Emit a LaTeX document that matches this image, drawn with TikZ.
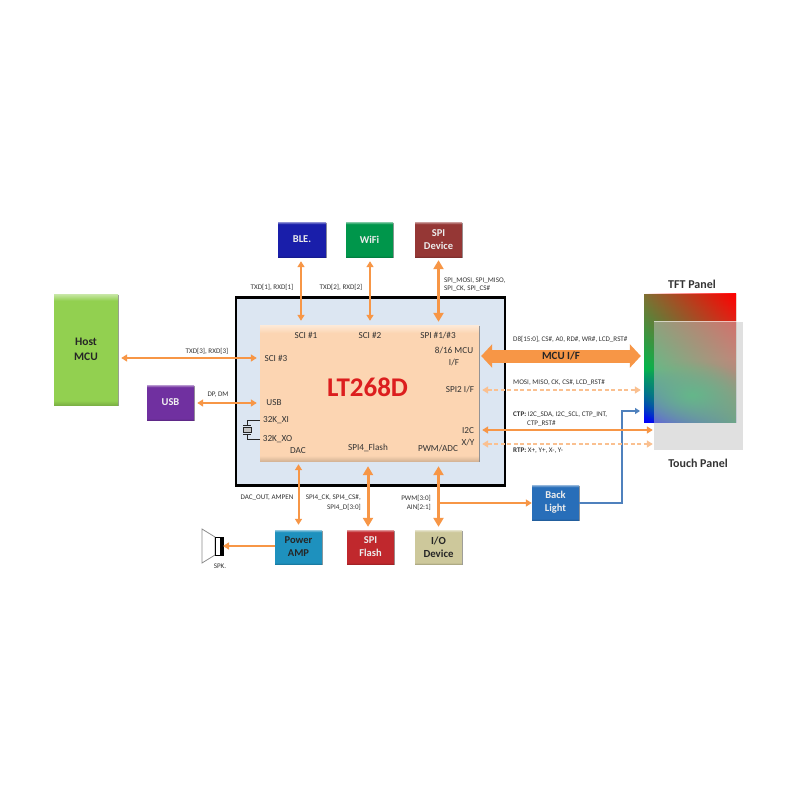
\documentclass[tikz,border=0pt]{standalone}
\usepackage{fontspec}
\setmainfont{Carlito}
\usetikzlibrary{arrows.meta,shadows,fadings}
\colorlet{boxc}{black}
\definecolor{orng}{HTML}{F79646}
\definecolor{orngl}{HTML}{FAC090}
\definecolor{blueln}{HTML}{4F81BD}
\definecolor{txtc}{HTML}{333333}
\definecolor{framefill}{HTML}{DCE6F2}
\definecolor{chipc}{HTML}{FCD5B2}
\definecolor{hostc}{HTML}{92D050}
\definecolor{usbc}{HTML}{7030A0}
\definecolor{blec}{HTML}{191EAA}
\definecolor{wific}{HTML}{00964B}
\definecolor{devc}{HTML}{953735}
\definecolor{ampc}{HTML}{1E91BE}
\definecolor{flashc}{HTML}{C0282D}
\definecolor{ioc}{HTML}{CDC89B}
\definecolor{backc}{HTML}{286EB9}
\definecolor{titlec}{HTML}{DC1E1E}
\definecolor{touchc}{HTML}{C2C2C2}
\definecolor{tftmid}{rgb}{0,0.72,0.3}
\definecolor{tfttl}{rgb}{0.5,0.44,0.2}
\definecolor{tftbr}{rgb}{0.1,0.55,0.3}
\definecolor{tftmr}{rgb}{0.75,0.3,0.2}
\pgfdeclareverticalshading[boxc]{boxshade}{100bp}{color(0bp)=(boxc!85!black); color(25bp)=(boxc!85!black); color(27bp)=(boxc); color(72bp)=(boxc); color(75bp)=(boxc!50!white); color(100bp)=(boxc!50!white)}
\pgfdeclareverticalshading{tftleft}{100bp}{color(0bp)=(blue); color(25bp)=(blue); color(46bp)=(tftmid); color(75bp)=(tfttl); color(100bp)=(tfttl)}
\pgfdeclareverticalshading{tftright}{100bp}{color(0bp)=(tftbr); color(25bp)=(tftbr); color(50bp)=(tftmr); color(75bp)=(red); color(100bp)=(red)}
\tikzfading[name=toright, left color=transparent!100, right color=transparent!0]
\tikzfading[name=blob, inner color=transparent!15, outer color=transparent!100]
\tikzset{
  shd/.style={drop shadow={shadow xshift=.8pt,shadow yshift=-1.2pt,opacity=.4,fill=black}},
  blk/.style n args={5}{draw=none,shd,inner sep=0pt,minimum width=#1,minimum height=#2,
    /utils/exec={\colorlet{boxc}{#3}},shading=boxshade,text=#4,align=center,
    font=\fontsize{#5}{13}\selectfont\bfseries},
  lbl/.style={inner sep=0pt,text=txtc,font=\fontsize{9.2}{11.5}\selectfont},
  sm/.style={inner sep=0pt,text=txtc,font=\fontsize{7.1}{8}\selectfont},
  smb/.style={sm,anchor=west},
  head/.style={inner sep=0pt,text=txtc,font=\fontsize{12}{13}\selectfont\bfseries},
  thin arr/.style={draw=orng,line width=2pt,{Triangle[width=7pt,length=6pt]}-{Triangle[width=7pt,length=6pt]}},
  one arr/.style={draw=orng,line width=2pt,-{Triangle[width=7pt,length=6pt]}},
  thick arr/.style={draw=orng,line width=3pt,{Triangle[width=10pt,length=9pt]}-{Triangle[width=10pt,length=9pt]}},
  dash arr/.style={draw=orngl,line width=1.6pt,dash pattern=on 4pt off 2.5pt,{Triangle[width=7pt,length=6pt]}-{Triangle[width=7pt,length=6pt]}},
}
\begin{document}
\begin{tikzpicture}[x=1pt,y=-1pt]
\useasboundingbox[fill=white] (0,0) rectangle (800,800);
% main frames
\node[draw=black,line width=2.4pt,fill=framefill,minimum width=269pt,minimum height=188pt,inner sep=0pt] (frame) at (370.5,391.5) {};
\node[blk={219pt}{136pt}{chipc}{black}{8}] (chip) at (369.5,393) {};
% blocks
\node[blk={64pt}{111pt}{hostc}{black!85}{11.5}] (host) at (86,349.5) {Host\\[2pt]MCU};
\node[blk={47pt}{35pt}{usbc}{white!90!gray}{10.5}] (usb) at (170.5,402.5) {USB};
\node[blk={48pt}{35pt}{blec}{white!85!gray}{10.5}] (ble) at (302,239.5) {BLE.};
\node[blk={47pt}{35pt}{wific}{white!85!gray}{10.5}] (wifi) at (369.5,239.5) {WiFi};
\node[blk={47pt}{35pt}{devc}{white!85!gray}{10.5}] (spidev) at (438.5,239.5) {SPI\\Device};
\node[blk={47pt}{34pt}{ampc}{black!85}{10.5}] (amp) at (298.5,547) {Power\\AMP};
\node[blk={47pt}{34pt}{flashc}{white!85!gray}{10.5}] (flash) at (370.5,547) {SPI\\Flash};
\node[blk={47pt}{34pt}{ioc}{black!85}{10.8}] (iodev) at (438.5,547) {I/O\\Device};
\node[blk={47pt}{35pt}{backc}{white!85!gray}{10.5}] (back) at (555.5,502.5) {Back\\Light};
% panels
\node[minimum width=92pt,minimum height=128pt,inner sep=0pt,shading=tftleft] (tft) at (690,358) {};
\shade[shading=tftright,path fading=toright] (tft.north west) rectangle (tft.south east);
\begin{scope}
\clip (tft.north west) rectangle (tft.south east);
\fill[tftmid,path fading=blob] (692,395) ellipse (60pt and 34pt);
\end{scope}
% connector anchors
\coordinate (ymcu) at (0,356);
\coordinate (yspi) at (0,390);
\coordinate (yctp) at (0,430);
\coordinate (yrtp) at (0,444);
\coordinate (yhost) at (0,358);
\coordinate (yusb) at (0,403);
\coordinate (yback) at (0,503);
\coordinate (yamp) at (0,546);
\coordinate (blbend) at (622,411);
\coordinate (blend) at (640,411);
% speaker
\coordinate (spk) at (223,546);
\filldraw[draw=gray!90,fill=white,line width=.8pt] (202,529) -- (215,537) -- (215,555) -- (202,563) -- cycle;
\filldraw[draw=black,fill=white,line width=.6pt] (215,537) rectangle (223,555);
\fill[black] (219.5,537) rectangle (223,555);
\node[sm] (spktxt) at (220,566.5) {SPK.};
% arrows
\draw[thin arr,shorten <=4pt,shorten >=4pt] ([xshift=-1pt]ble.south) -- ([xshift=-1pt]ble.south |- chip.north);
\draw[thin arr,shorten <=4pt,shorten >=4pt] ([xshift=.5pt]wifi.south) -- ([xshift=.5pt]wifi.south |- chip.north);
\draw[thick arr,shorten <=3pt,shorten >=3pt] (spidev.south) -- (spidev.south |- chip.north);
\draw[thin arr,shorten <=3pt,shorten >=3pt] (host.east |- yhost) -- (chip.west |- yhost);
\draw[thin arr,shorten <=3pt,shorten >=3pt] (usb.east |- yusb) -- (chip.west |- yusb);
\draw[thin arr,shorten <=5pt,shorten >=3pt] (amp.north) -- (amp.north |- chip.south);
\draw[thick arr,shorten <=3pt,shorten >=5pt] ([xshift=-2.5pt]flash.north) -- ([xshift=-2.5pt]flash.north |- chip.south);
\draw[thick arr,shorten <=3pt,shorten >=5pt] (iodev.north) -- (iodev.north |- chip.south);
\draw[one arr] (iodev.north |- yback) -- (back.west |- yback);
\draw[one arr,shorten >=0pt] (amp.west |- yamp) -- (spk |- yamp);
\draw[draw=orng,line width=13pt,{Triangle[width=23pt,length=11pt]}-{Triangle[width=23pt,length=11pt]},shorten <=2pt,shorten >=3pt] (chip.east |- ymcu) -- (tft.west |- ymcu);
\node[head,text=black!85,font=\fontsize{11}{12}\selectfont\bfseries] (mculbl) at (561,356) {MCU I/F};
\draw[dash arr,shorten <=3pt,shorten >=3pt] (chip.east |- yspi) -- (tft.west |- yspi);
\draw[blueln,line width=1.3pt,-{Triangle[width=6pt,length=5pt]}] (back.east |- yback) -| (blbend) -- (blend);
% touch panel above the TFT
\node[minimum width=89pt,minimum height=128pt,inner sep=0pt,fill=touchc,fill opacity=.5] (touch) at (698.5,386) {};
\draw[white,opacity=.7,line width=1pt] (touch.north west) -- (touch.north east);
\draw[draw=orng,line width=2.4pt,{Triangle[width=7pt,length=6pt]}-{Triangle[width=7pt,length=6pt]},shorten <=3pt,shorten >=1pt] (chip.east |- yctp) -- (touch.west |- yctp);
\draw[dash arr,shorten <=3pt,shorten >=1pt] (chip.east |- yrtp) -- (touch.west |- yrtp);
% crystal
\draw[gray!30!black,line width=.8pt] (260,420) -- (247,420) -- (247,425.5) (243,425.5) -- (251,425.5);
\draw[gray!30!black,line width=.8pt] (260,439) -- (247,439) -- (247,434.5) (243,434.5) -- (251,434.5);
\filldraw[draw=gray!30!black,fill=gray!45,line width=.6pt] (243,427.5) rectangle (251,432.5);
% chip labels
\node[inner sep=0pt,text=titlec,font=\fontsize{27}{29}\selectfont\bfseries] (title) at (367.5,387) {LT268D};
\node[lbl] (a1) at (306,335) {SCI \#1};
\node[lbl] (a2) at (370,335) {SCI \#2};
\node[lbl] (a3) at (438,335) {SPI \#1/\#3};
\node[lbl] (a4) at (276,358) {SCI \#3};
\node[lbl,align=center] (a5) at (454,356.5) {8/16 MCU\\I/F};
\node[lbl] (a6) at (460,389) {SPI2 I/F};
\node[lbl] (a7) at (468,431) {I2C};
\node[lbl] (a8) at (468,442) {X/Y};
\node[lbl] (a9) at (274,403) {USB};
\node[lbl] (a10) at (276,420) {32K\_XI};
\node[lbl] (a11) at (277.5,439) {32K\_XO};
\node[lbl] (a12) at (298,451) {DAC};
\node[lbl] (a13) at (368,448) {SPI4\_Flash};
\node[lbl] (a14) at (438,448) {PWM/ADC};
% signal labels
\node[sm] (b1) at (272,287.5) {TXD[1], RXD[1]};
\node[sm] (b2) at (341,287.5) {TXD[2], RXD[2]};
\node[smb] (b3) at (444,280.5) {SPI\_MOSI, SPI\_MISO,};
\node[smb] (b4) at (444,289) {SPI\_CK, SPI\_CS\#};
\node[sm] (b5) at (207,351.5) {TXD[3], RXD[3]};
\node[sm] (b6) at (218,394.5) {DP, DM};
\node[smb] (b7) at (513,339) {D8[15:0], CS\#, A0, RD\#, WR\#, LCD\_RST\#};
\node[smb] (b8) at (513,383) {MOSI, MISO, CK, CS\#, LCD\_RST\#};
\node[smb] (b9) at (513,415) {\textbf{CTP:} I2C\_SDA, I2C\_SCL, CTP\_INT,};
\node[smb] (b10) at (527,423.5) {CTP\_RST\#};
\node[smb] (b11) at (513,451) {\textbf{RTP:} X+, Y+, X-, Y-};
\node[sm] (b12) at (267,498) {DAC\_OUT, AMPEN};
\node[sm,anchor=east] (b13) at (361,498) {SPI4\_CK, SPI4\_CS\#,};
\node[sm,anchor=east] (b14) at (361,507) {SPI4\_D[3:0]};
\node[sm,anchor=east] (b15) at (431,498) {PWM[3:0]};
\node[sm,anchor=east] (b16) at (431,507) {AIN[2:1]};
\node[head] (tftlbl) at (692,284) {TFT Panel};
\node[head] (touchlbl) at (698,463.5) {Touch Panel};
\end{tikzpicture}
\end{document}
